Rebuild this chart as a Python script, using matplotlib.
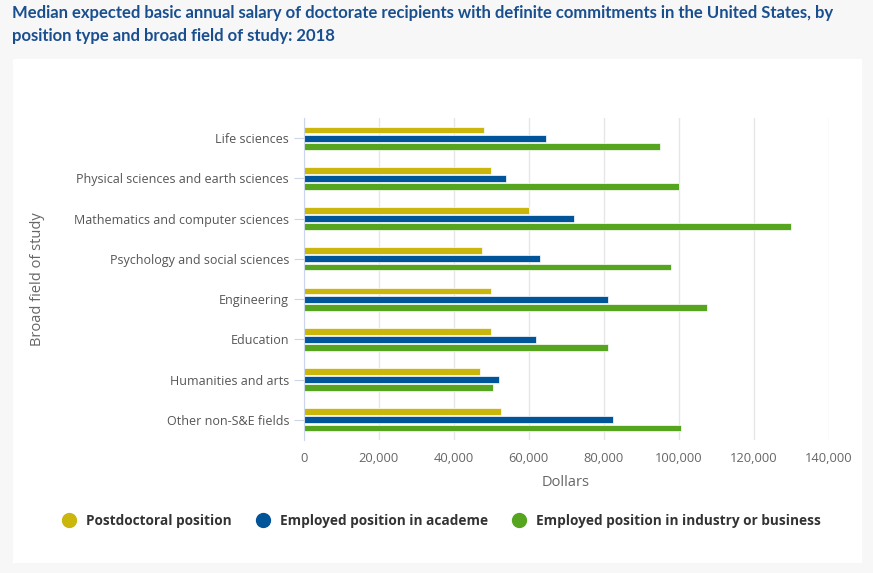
import matplotlib
matplotlib.use("Agg")
import matplotlib.pyplot as plt
import numpy as np
from matplotlib.patches import Rectangle
from matplotlib.lines import Line2D

fields = ["Life sciences", "Physical sciences and earth sciences",
          "Mathematics and computer sciences", "Psychology and social sciences",
          "Engineering", "Education", "Humanities and arts", "Other non-S&E fields"]
postdoc = [48000, 50000, 60000, 47500, 50000, 50000, 47000, 52500]
academe = [64500, 54000, 72000, 63000, 81000, 62000, 52000, 82500]
industry = [95000, 100000, 130000, 98000, 107500, 81000, 50500, 100500]
series = ["Postdoctoral position", "Employed position in academe",
          "Employed position in industry or business"]
colors = ["#cbb60c", "#00559a", "#56a51e"]
xticks = [0, 20000, 40000, 60000, 80000, 100000, 120000, 140000]

W, H = 873, 573
fig = plt.figure(figsize=(W / 100, H / 100), dpi=100, facecolor="#f7f7f7")
fig.patches.append(Rectangle((13 / W, 1 - 563 / H), (862 - 13) / W, (563 - 59) / H,
                             transform=fig.transFigure, facecolor="white",
                             edgecolor="none", zorder=-5))

fig.text(12 / W, 1 - 5 / H,
         "Median expected basic annual salary of doctorate recipients with definite commitments in the United States, by\n"
         "position type and broad field of study: 2018",
         ha="left", va="top", fontsize=12, fontweight="bold", color="#1a4f8f",
         family=["Lato", "DejaVu Sans"], linespacing=1.5)

ax = fig.add_axes([303.7 / W, 1 - 440 / H, (829 - 303.7) / W, (440 - 118) / H])
ax.set_facecolor("white")

y = np.arange(len(fields))
for k, (vals, c) in enumerate(zip([postdoc, academe, industry], colors)):
    ax.barh(y + (k - 1) * 0.2, vals, height=0.17, color=c,
            edgecolor="white", linewidth=0.5, zorder=3)

ax.set_ylim(len(fields) - 0.5, -0.5)
ax.set_xlim(0, 140000)
ax.set_xticks(xticks)
ax.set_xticklabels(["{:,}".format(v) for v in xticks])
ax.set_yticks(y)
ax.set_yticklabels(fields)
ax.grid(axis="x", color="#e6e6e6", linewidth=1, zorder=0)
for s in ["top", "right", "bottom"]:
    ax.spines[s].set_visible(False)
ax.spines["left"].set_color("#ccd6eb")
ax.spines["left"].set_zorder(4)
ax.tick_params(axis="y", length=7, color="#ccd6eb", pad=3.5, labelsize=9,
               labelcolor="#555555")
ax.tick_params(axis="x", length=0, pad=9, labelsize=9.3, labelcolor="#666666")
for t in ax.get_xticklabels() + ax.get_yticklabels():
    t.set_family("Open Sans")

fig.text(566 / W, 1 - 482 / H, "Dollars", ha="center", va="center",
         fontsize=10.5, color="#666666", family="Open Sans")
fig.text(38 / W, 1 - 279 / H, "Broad field of study", ha="center", va="center",
         rotation=90, fontsize=10.5, color="#666666", family="Open Sans")

handles = [Line2D([], [], marker="o", linestyle="none", markersize=10,
                  markerfacecolor=c, markeredgecolor=c) for c in colors]
leg = fig.legend(handles, series, loc="center", bbox_to_anchor=(438 / W, 1 - 521 / H),
                 ncol=3, frameon=False, handletextpad=0.25, columnspacing=1.3,
                 prop={"family": "Open Sans", "weight": "bold", "size": 9.8})
for t in leg.get_texts():
    t.set_color("#333333")

fig.savefig("out.png", dpi=100, facecolor=fig.get_facecolor())
